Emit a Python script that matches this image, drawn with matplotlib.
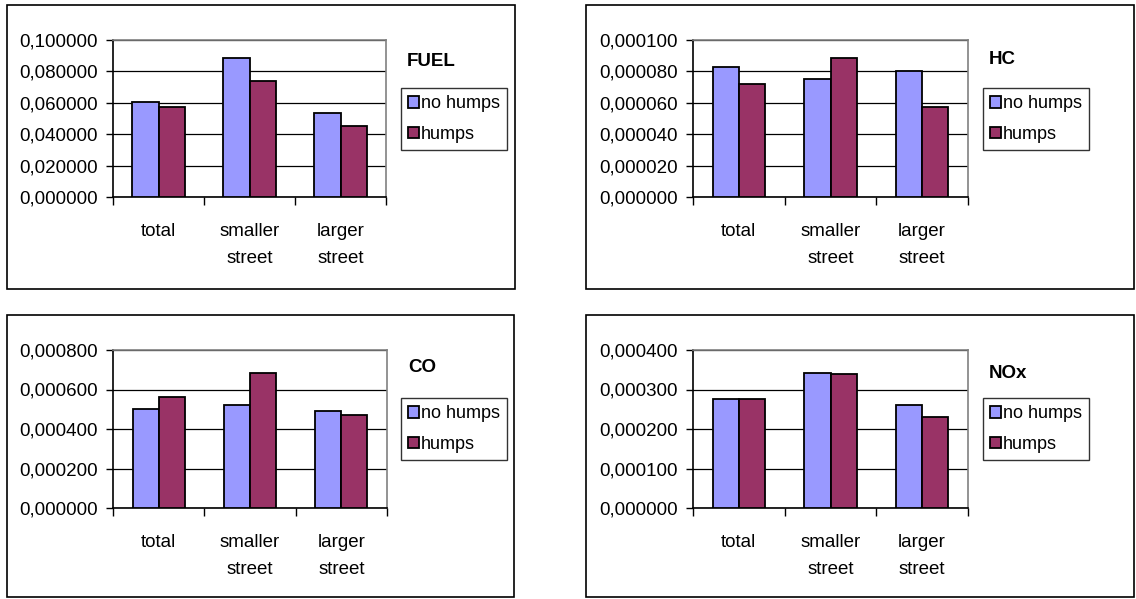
import matplotlib
matplotlib.use("Agg")
import matplotlib.pyplot as plt
import numpy as np
from matplotlib.patches import Rectangle

plt.rcParams['font.family'] = ['Liberation Sans', 'DejaVu Sans']

### data
kategorije = ["total", "smaller\nstreet", "larger\nstreet"]
serije = ["no humps", "humps"]

fuel_brez = [0.0607, 0.0885, 0.0537]
fuel_z = [0.0571, 0.0737, 0.0454]
hc_brez = [0.0000830, 0.0000752, 0.0000805]
hc_z = [0.0000722, 0.0000885, 0.0000575]
co_brez = [0.000500, 0.000524, 0.000492]
co_z = [0.000563, 0.000685, 0.000471]
nox_brez = [0.000277, 0.000342, 0.000261]
nox_z = [0.000277, 0.000339, 0.000230]

naslovi = ["FUEL", "HC", "CO", "NOx"]
y_max = [0.1, 0.0001, 0.0008, 0.0004]
y_korak = [0.02, 0.00002, 0.0002, 0.0001]

barva_brez = "#9999FF"
barva_z = "#993366"

W, H = 1136, 599
fig = plt.figure(figsize=(W / 100, H / 100), dpi=100)


def px(x0, y0, x1, y1):
    # pixel box (from top left) -> figure fractions
    return [x0 / W, 1 - y1 / H, (x1 - x0) / W, (y1 - y0) / H]


### okvirji panelov
okvirji = [(7, 5, 515, 289), (586, 5, 1134, 289), (7, 315, 514, 597), (586, 315, 1134, 597)]
for (x0, y0, x1, y1) in okvirji:
    fig.patches.append(Rectangle((x0 / W, 1 - y1 / H), (x1 - x0) / W, (y1 - y0) / H,
                                 transform=fig.transFigure, fill=False,
                                 edgecolor="black", linewidth=1.2))

osi = [(113, 40, 386, 197), (693, 40, 968, 197), (113, 350, 387, 508), (693, 350, 968, 508)]
podatki = [(fuel_brez, fuel_z), (hc_brez, hc_z), (co_brez, co_z), (nox_brez, nox_z)]
naslov_pos = [(407, 61), (989, 59), (408, 368), (989, 373)]
legenda_pos = [(401, 88), (983, 88), (401, 398), (983, 398)]

sirina = 0.286
x = np.arange(len(kategorije))

for i in range(4):
    ax = fig.add_axes(px(*osi[i]))
    brez, z = podatki[i]
    ax.bar(x - sirina / 2, brez, sirina, color=barva_brez, edgecolor="black",
           linewidth=1.3, label=serije[0], zorder=3)
    ax.bar(x + sirina / 2, z, sirina, color=barva_z, edgecolor="black",
           linewidth=1.3, label=serije[1], zorder=3)
    ax.set_xlim(-0.5, 2.5)
    ax.set_ylim(0, y_max[i])
    ticks = np.arange(0, y_max[i] + y_korak[i] / 2, y_korak[i])
    ax.set_yticks(ticks)
    ax.set_yticklabels(["{:.6f}".format(t).replace(".", ",") for t in ticks], fontsize=13.5)
    ax.yaxis.grid(True, color="black", linewidth=0.9, zorder=0)
    ax.set_axisbelow(True)
    ax.tick_params(axis="y", length=5, width=1, pad=6, direction="out")
    # ticks between categories, labels in the middle
    ax.set_xticks([-0.5, 0.5, 1.5, 2.5])
    ax.set_xticklabels([])
    ax.tick_params(axis="x", which="major", length=6, width=1, direction="out")
    ax.set_xticks(x, minor=True)
    ax.set_xticklabels(kategorije, minor=True, fontsize=13.5, linespacing=1.75)
    ax.tick_params(axis="x", which="minor", length=0, pad=19)
    for s in ["top", "right"]:
        ax.spines[s].set_color("#808080")
        ax.spines[s].set_linewidth(1.2)
    for s in ["left", "bottom"]:
        ax.spines[s].set_color("black")
        ax.spines[s].set_linewidth(1.2)

    tx, ty = naslov_pos[i]
    fig.text(tx / W, 1 - ty / H, naslovi[i], fontsize=13.5, fontweight="bold",
             ha="left", va="center")

    lx, ly = legenda_pos[i]
    leg = ax.legend(loc="upper left", bbox_to_anchor=(lx / W, 1 - ly / H),
                    bbox_transform=fig.transFigure, fontsize=13, frameon=True,
                    fancybox=False, borderpad=0.4, handlelength=0.62,
                    handleheight=0.62, handletextpad=0.1, labelspacing=0.75,
                    borderaxespad=0)
    leg.get_frame().set_edgecolor("black")
    leg.get_frame().set_linewidth(1.0)

fig.savefig("out.png", dpi=100)
